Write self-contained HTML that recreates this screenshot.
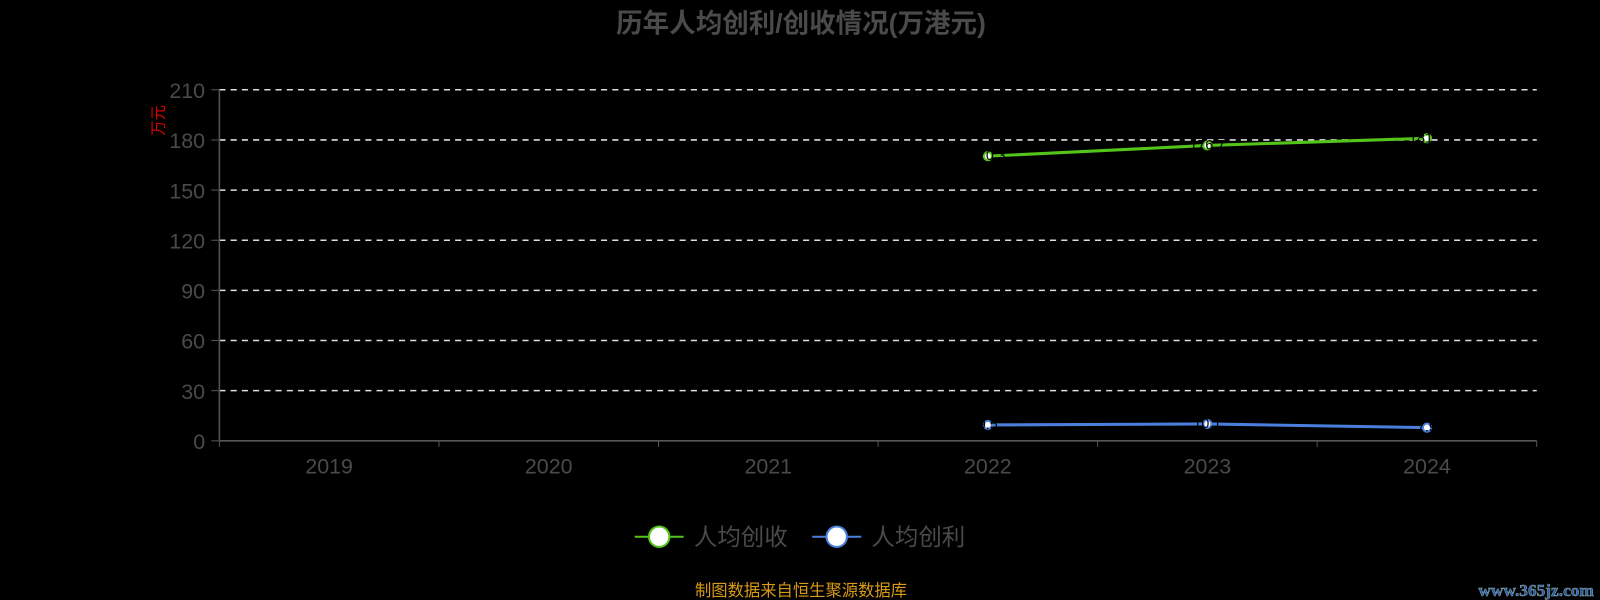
<!DOCTYPE html>
<html><head><meta charset="utf-8"><style>
body{margin:0;background:#000;width:1600px;height:600px;overflow:hidden;font-family:"Liberation Sans","Noto Sans CJK SC",sans-serif}
</style></head><body>
<svg id="c" width="1600" height="600" viewBox="0 0 1568 588" preserveAspectRatio="none" style="position:absolute;left:0;top:0">
<text x="785" y="32" text-anchor="middle" font-size="26" font-weight="bold" fill="#4a4a4a">历年人均创利/创收情况(万港元)</text>
<text transform="translate(160,118) rotate(-90)" text-anchor="middle" font-size="15" fill="#d00">万元</text>
<g id="grid"></g><g id="axes"></g><g id="series"></g>
<g>
<g><line x1="622" y1="526" x2="670" y2="526" stroke="#52c41a" stroke-width="2"/><circle cx="646" cy="526" r="10" fill="#fff" stroke="#52c41a" stroke-width="2"/><text x="680" y="534" font-size="23" fill="#4a4a4a">人均创收</text></g>
<g><line x1="796" y1="526" x2="844" y2="526" stroke="#4a7fdc" stroke-width="2"/><circle cx="820" cy="526" r="10" fill="#fff" stroke="#4a7fdc" stroke-width="2"/><text x="854" y="534" font-size="23" fill="#4a4a4a">人均创利</text></g>
</g>
<text x="785" y="584" text-anchor="middle" font-size="16" fill="#d89a18">制图数据来自恒生聚源数据库</text>
<text x="1562" y="584" text-anchor="end" font-size="17" font-weight="bold" fill="#2a5aa8" stroke="#8aa" stroke-width="0.5" font-family="Liberation Serif,serif">www.365jz.com</text>
</svg>
<script>
const categories=["2019","2020","2021","2022","2023","2024"];
const yTicks=[0,30,60,90,120,150,180,210];
const revenue=[null,null,null,170.3,176.7,181.0];
const profit=[null,null,null,9.5,10.1,7.9];
const NS="http://www.w3.org/2000/svg";
const x0=215,x1=1506,y0=432,y1=88,ymax=210;
const bw=(x1-x0)/categories.length;
const X=i=>x0+bw*(i+0.5), Y=v=>y0-(v/ymax)*(y0-y1);
function mk(t,a,p){const e=document.createElementNS(NS,t);for(const k in a)e.setAttribute(k,a[k]);p.appendChild(e);return e;}
const grid=document.getElementById('grid'),axes=document.getElementById('axes'),ser=document.getElementById('series');
yTicks.forEach(v=>{
 if(v>0){const l=mk('line',{x1:x0,x2:x1,y1:Y(v),y2:Y(v),stroke:'#ddd','stroke-dasharray':'6,5','stroke-width':1.5},grid);
 
 }
 const tk=mk('line',{x1:x0-8,x2:x0,y1:Y(v),y2:Y(v),stroke:'#555'},axes);
 
 
 const t=mk('text',{x:x0-14,y:Y(v)+8,'text-anchor':'end','font-size':21,fill:'#4a4a4a'},axes);t.textContent=v;
 
 
});
const ya=mk('line',{x1:x0,x2:x0,y1:y1,y2:y0,stroke:'#555','stroke-width':1.5},axes);


const xa=mk('line',{x1:x0,x2:x1,y1:y0,y2:y0,stroke:'#555','stroke-width':1.5},axes);


for(let i=0;i<=categories.length;i++){const tk=mk('line',{x1:x0+bw*i,x2:x0+bw*i,y1:y0,y2:y0+6,stroke:'#555'},axes);
 
 }
categories.forEach((c,i)=>{const t=mk('text',{x:X(i),y:y0+32,'text-anchor':'middle','font-size':21,fill:'#4a4a4a'},axes);t.textContent=c;
 
 });
function draw(arr,color,name){
 const pts=arr.map((v,i)=>v==null?null:[X(i),Y(v)]).filter(p=>p);
 const pl=mk('polyline',{points:pts.map(p=>p.join(',')).join(' '),fill:'none',stroke:color,'stroke-width':3},ser);
 
 
 arr.forEach((v,i)=>{if(v==null)return;
  const c=mk('circle',{cx:X(i),cy:Y(v),r:4,fill:'#fff',stroke:color,'stroke-width':2},ser);
  
  
  const t=mk('text',{x:X(i),y:Y(v)+4,'text-anchor':'middle','font-size':14,fill:'#000'},ser);t.textContent=v.toFixed(1);
  
  
 });
}
draw(revenue,'#52c41a','revenue');
draw(profit,'#4a7fdc','profit');
</script>
</body></html>
